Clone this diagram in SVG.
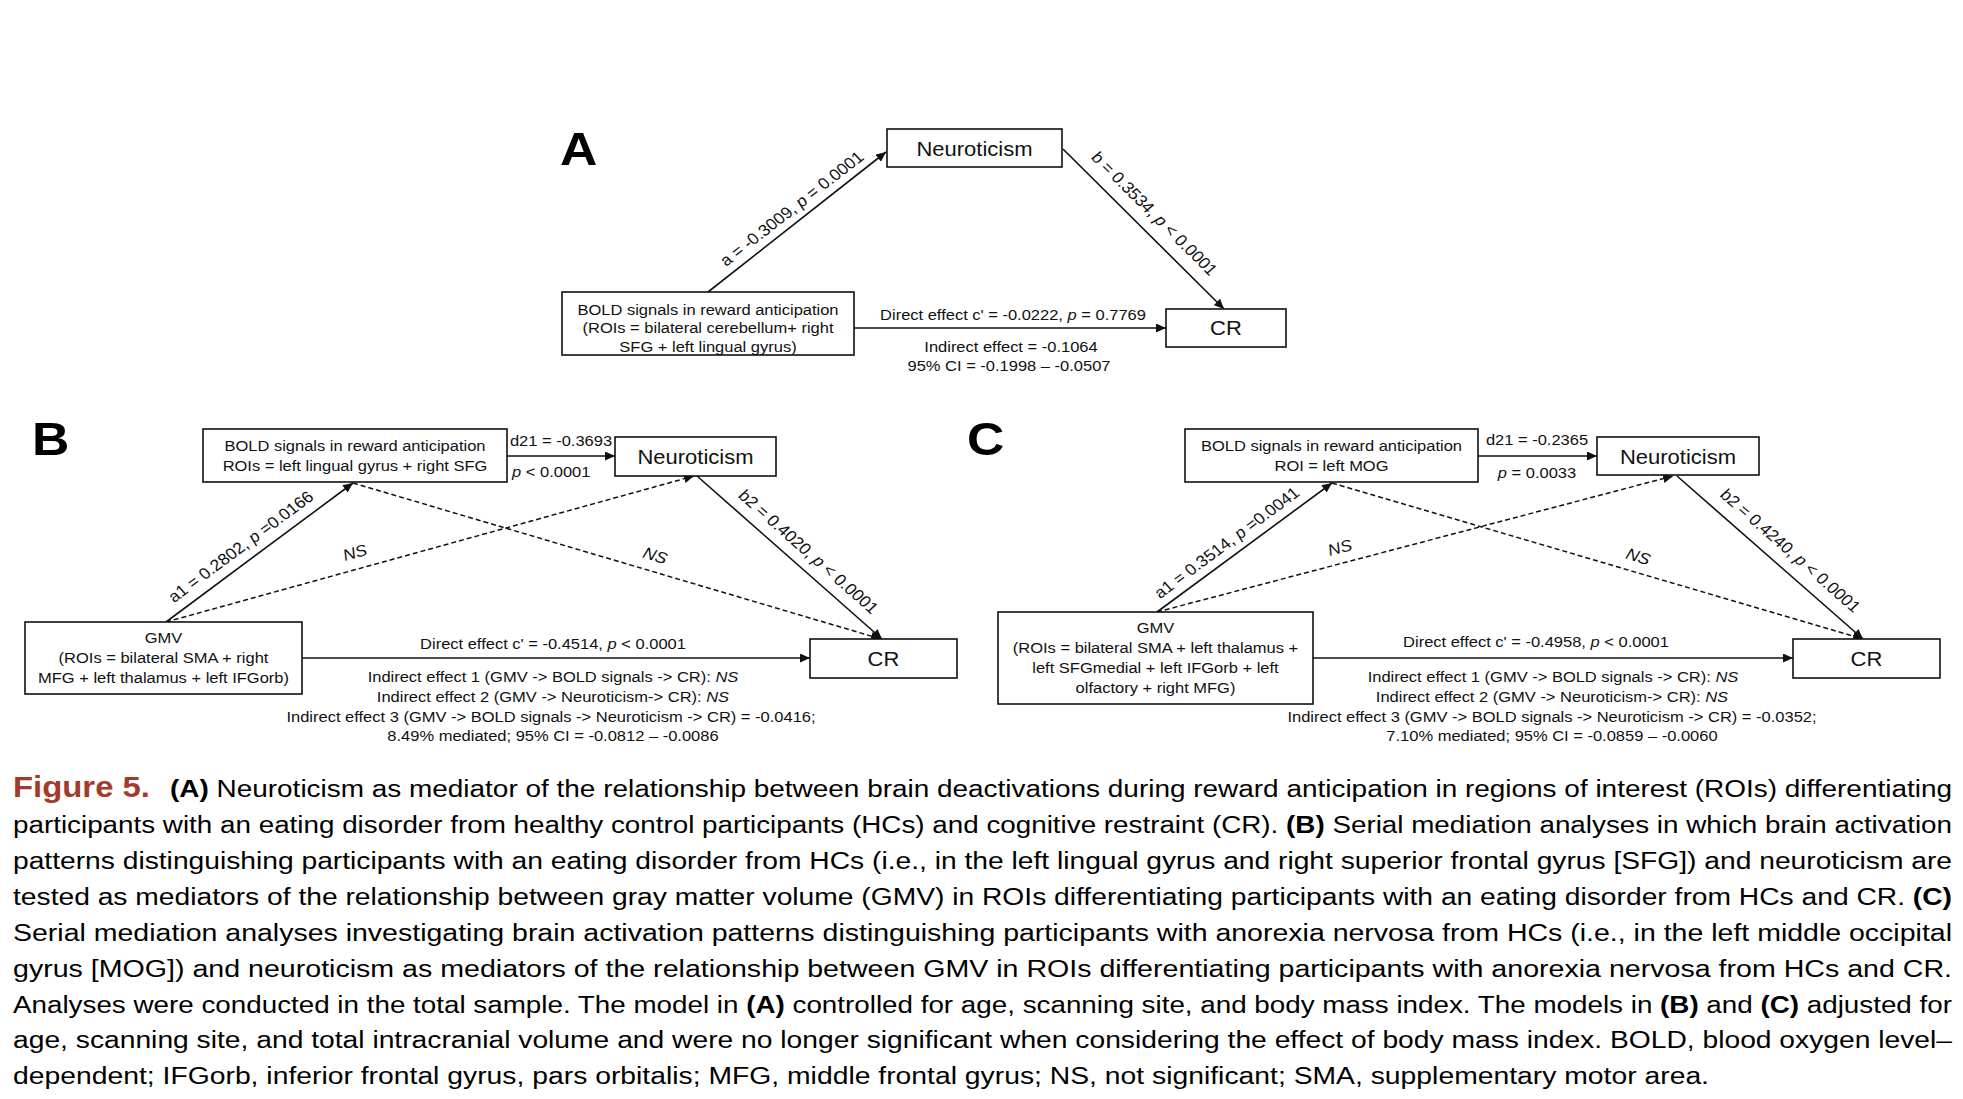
<svg xmlns="http://www.w3.org/2000/svg" width="1963" height="1099" viewBox="0 0 1963 1099">
<style>
text{font-family:"Liberation Sans",Arial,Helvetica,sans-serif;fill:#111}
.bx{fill:#fff;stroke:#111;stroke-width:1.6}
.ln{stroke:#111;stroke-width:1.6;fill:none}
.ds{stroke:#111;stroke-width:1.5;stroke-dasharray:5 3;fill:none}
.s{transform-box:fill-box;transform-origin:center;transform:scaleX(1.1)}
.sl{transform-box:fill-box;transform-origin:left center;transform:scaleX(1.1)}
.f15{font-size:15px}
.f16{font-size:16px}
.f20{font-size:20px}
.let{font-size:47px;font-weight:bold;fill:#000}
.cap{font-size:23px;fill:#000}
.i{font-style:italic}
.b{font-weight:bold}
</style>
<defs>
<marker id="ah" markerUnits="userSpaceOnUse" markerWidth="11" markerHeight="9" refX="10" refY="4.5" orient="auto"><path d="M0,0 L10,4.5 L0,9 z" fill="#111"/></marker>
</defs>

<!-- Panel letters -->
<g id="labels">
<text class="let sl" x="560" y="165">A</text>
<text class="let sl" x="32" y="455">B</text>
<text class="let sl" x="967" y="455">C</text>
</g>

<!-- Connectors -->
<g id="connectors">
<!-- Panel A -->
<line class="ln" x1="708" y1="292" x2="886" y2="152" marker-end="url(#ah)"/>
<line class="ln" x1="1063" y1="149" x2="1224" y2="309" marker-end="url(#ah)"/>
<line class="ln" x1="854" y1="328" x2="1166" y2="328" marker-end="url(#ah)"/>
<!-- Panel B -->
<line class="ln" x1="507" y1="456" x2="615" y2="456" marker-end="url(#ah)"/>
<line class="ln" x1="166" y1="622" x2="353" y2="483" marker-end="url(#ah)"/>
<line class="ds" x1="166" y1="622" x2="694" y2="476" marker-end="url(#ah)"/>
<line class="ds" x1="353" y1="483" x2="881" y2="639" marker-end="url(#ah)"/>
<line class="ln" x1="697" y1="476" x2="882" y2="639" marker-end="url(#ah)"/>
<line class="ln" x1="302" y1="658" x2="810" y2="658" marker-end="url(#ah)"/>
<!-- Panel C -->
<line class="ln" x1="1478" y1="456" x2="1597" y2="456" marker-end="url(#ah)"/>
<line class="ln" x1="1157" y1="612" x2="1332" y2="483" marker-end="url(#ah)"/>
<line class="ds" x1="1157" y1="612" x2="1673" y2="476" marker-end="url(#ah)"/>
<line class="ds" x1="1332" y1="483" x2="1863" y2="639" marker-end="url(#ah)"/>
<line class="ln" x1="1677" y1="476" x2="1863" y2="639" marker-end="url(#ah)"/>
<line class="ln" x1="1313" y1="658" x2="1793" y2="658" marker-end="url(#ah)"/>

<!-- connector labels A -->
<text class="f16" text-anchor="middle" y="5" transform="translate(792,209) scale(1.1,1) rotate(-40.7)">a = -0.3009, <tspan class="i">p</tspan> = 0.0001</text>
<text class="f16" text-anchor="middle" y="5" transform="translate(1154,214) scale(1.1,1) rotate(47.5)">b = 0.3534, <tspan class="i">p</tspan> &lt; 0.0001</text>
<text class="f15 s" x="1013" y="320" text-anchor="middle">Direct effect c' = -0.0222, <tspan class="i">p</tspan> = 0.7769</text>
<text class="f15 s" x="1011" y="352" text-anchor="middle">Indirect effect = -0.1064</text>
<text class="f15 s" x="1009" y="371" text-anchor="middle">95% CI = -0.1998 – -0.0507</text>

<!-- connector labels B -->
<text class="f15 s" x="561" y="446" text-anchor="middle">d21 = -0.3693</text>
<text class="f15 sl" x="512" y="477"><tspan class="i">p</tspan> &lt; 0.0001</text>
<text class="f16" text-anchor="middle" y="5" transform="translate(241,547) scale(1.1,1) rotate(-39.3)">a1 = 0.2802, <tspan class="i">p</tspan> =0.0166</text>
<text class="f16 i" text-anchor="middle" y="5" transform="translate(355,553) scale(1.1,1) rotate(-16.9)">NS</text>
<text class="f16 i" text-anchor="middle" y="5" transform="translate(655,556) scale(1.1,1) rotate(18)">NS</text>
<text class="f16" text-anchor="middle" y="5" transform="translate(808,552) scale(1.1,1) rotate(44.1)">b2 = 0.4020, <tspan class="i">p</tspan> &lt; 0.0001</text>
<text class="f15 s" x="553" y="649" text-anchor="middle">Direct effect c' = -0.4514, <tspan class="i">p</tspan> &lt; 0.0001</text>
<text class="f15 s" x="553" y="682" text-anchor="middle">Indirect effect 1 (GMV -&gt; BOLD signals -&gt; CR): <tspan class="i">NS</tspan></text>
<text class="f15 s" x="553" y="702" text-anchor="middle">Indirect effect 2 (GMV -&gt; Neuroticism-&gt; CR): <tspan class="i">NS</tspan></text>
<text class="f15 s" x="551" y="722" text-anchor="middle">Indirect effect 3 (GMV -&gt; BOLD signals -&gt; Neuroticism -&gt; CR) = -0.0416;</text>
<text class="f15 s" x="553" y="741" text-anchor="middle">8.49% mediated; 95% CI = -0.0812 – -0.0086</text>

<!-- connector labels C -->
<text class="f15 s" x="1537" y="445" text-anchor="middle">d21 = -0.2365</text>
<text class="f15 s" x="1537" y="478" text-anchor="middle"><tspan class="i">p</tspan> = 0.0033</text>
<text class="f16" text-anchor="middle" y="5" transform="translate(1227,543) scale(1.1,1) rotate(-39.3)">a1 = 0.3514, <tspan class="i">p</tspan> =0.0041</text>
<text class="f16 i" text-anchor="middle" y="5" transform="translate(1340,548) scale(1.1,1) rotate(-16.2)">NS</text>
<text class="f16 i" text-anchor="middle" y="5" transform="translate(1638,557) scale(1.1,1) rotate(18)">NS</text>
<text class="f16" text-anchor="middle" y="5" transform="translate(1790,551) scale(1.1,1) rotate(43.9)">b2 = 0.4240, <tspan class="i">p</tspan> &lt; 0.0001</text>
<text class="f15 s" x="1536" y="647" text-anchor="middle">Direct effect c' = -0.4958, <tspan class="i">p</tspan> &lt; 0.0001</text>
<text class="f15 s" x="1553" y="682" text-anchor="middle">Indirect effect 1 (GMV -&gt; BOLD signals -&gt; CR): <tspan class="i">NS</tspan></text>
<text class="f15 s" x="1552" y="702" text-anchor="middle">Indirect effect 2 (GMV -&gt; Neuroticism-&gt; CR): <tspan class="i">NS</tspan></text>
<text class="f15 s" x="1552" y="722" text-anchor="middle">Indirect effect 3 (GMV -&gt; BOLD signals -&gt; Neuroticism -&gt; CR) = -0.0352;</text>
<text class="f15 s" x="1552" y="741" text-anchor="middle">7.10% mediated; 95% CI = -0.0859 – -0.0060</text>
</g>

<!-- Panel A nodes -->
<g id="A-neuroticism">
<rect class="bx" x="887" y="129" width="175" height="38"/>
<text class="f20 s" x="974.5" y="156" text-anchor="middle">Neuroticism</text>
</g>
<g id="A-bold">
<rect class="bx" x="562" y="292" width="292" height="63"/>
<text class="f15 s" text-anchor="middle"><tspan x="708" y="315">BOLD signals in reward anticipation</tspan><tspan x="708" y="333.5">(ROIs = bilateral cerebellum+ right</tspan><tspan x="708" y="352">SFG + left lingual gyrus)</tspan></text>
</g>
<g id="A-cr">
<rect class="bx" x="1166" y="309" width="120" height="38"/>
<text class="f20 s" x="1226" y="335.5" text-anchor="middle">CR</text>
</g>

<!-- Panel B nodes -->
<g id="B-bold">
<rect class="bx" x="203" y="429" width="304" height="53"/>
<text class="f15 s" text-anchor="middle"><tspan x="355" y="451.5">BOLD signals in reward anticipation</tspan><tspan x="355" y="471.5">ROIs = left lingual gyrus + right SFG</tspan></text>
</g>
<g id="B-neuroticism">
<rect class="bx" x="615" y="437" width="161" height="39"/>
<text class="f20 s" x="695.5" y="464" text-anchor="middle">Neuroticism</text>
</g>
<g id="B-gmv">
<rect class="bx" x="25" y="622" width="277" height="72"/>
<text class="f15 s" text-anchor="middle"><tspan x="163.5" y="643.5">GMV</tspan><tspan x="163.5" y="663.5">(ROIs = bilateral SMA + right</tspan><tspan x="163.5" y="683.5">MFG + left thalamus + left IFGorb)</tspan></text>
</g>
<g id="B-cr">
<rect class="bx" x="810" y="639" width="147" height="39"/>
<text class="f20 s" x="883.5" y="666" text-anchor="middle">CR</text>
</g>

<!-- Panel C nodes -->
<g id="C-bold">
<rect class="bx" x="1185" y="429" width="293" height="53"/>
<text class="f15 s" text-anchor="middle"><tspan x="1331.5" y="451.5">BOLD signals in reward anticipation</tspan><tspan x="1331.5" y="471.5">ROI = left MOG</tspan></text>
</g>
<g id="C-neuroticism">
<rect class="bx" x="1597" y="437" width="162" height="38"/>
<text class="f20 s" x="1678" y="464" text-anchor="middle">Neuroticism</text>
</g>
<g id="C-gmv">
<rect class="bx" x="998" y="612" width="315" height="92"/>
<text class="f15 s" text-anchor="middle"><tspan x="1155.5" y="633.5">GMV</tspan><tspan x="1155.5" y="653.5">(ROIs = bilateral SMA + left thalamus +</tspan><tspan x="1155.5" y="673.5">left SFGmedial + left IFGorb + left</tspan><tspan x="1155.5" y="693.5">olfactory + right MFG)</tspan></text>
</g>
<g id="C-cr">
<rect class="bx" x="1793" y="639" width="147" height="39"/>
<text class="f20 s" x="1866.5" y="666" text-anchor="middle">CR</text>
</g>

<!-- Caption -->
<g id="caption">
<text x="13" y="797" font-size="29" font-weight="bold" fill="#a33b2c" style="fill:#a33b2c" textLength="137" lengthAdjust="spacingAndGlyphs">Figure 5.</text>
<text class="cap" x="170" y="797" textLength="1782" lengthAdjust="spacingAndGlyphs"><tspan class="b">(A)</tspan> Neuroticism as mediator of the relationship between brain deactivations during reward anticipation in regions of interest (ROIs) differentiating</text>
<text class="cap" x="13" y="833" textLength="1939" lengthAdjust="spacingAndGlyphs">participants with an eating disorder from healthy control participants (HCs) and cognitive restraint (CR). <tspan class="b">(B)</tspan> Serial mediation analyses in which brain activation</text>
<text class="cap" x="13" y="869" textLength="1939" lengthAdjust="spacingAndGlyphs">patterns distinguishing participants with an eating disorder from HCs (i.e., in the left lingual gyrus and right superior frontal gyrus [SFG]) and neuroticism are</text>
<text class="cap" x="13" y="905" textLength="1939" lengthAdjust="spacingAndGlyphs">tested as mediators of the relationship between gray matter volume (GMV) in ROIs differentiating participants with an eating disorder from HCs and CR. <tspan class="b">(C)</tspan></text>
<text class="cap" x="13" y="940.5" textLength="1939" lengthAdjust="spacingAndGlyphs">Serial mediation analyses investigating brain activation patterns distinguishing participants with anorexia nervosa from HCs (i.e., in the left middle occipital</text>
<text class="cap" x="13" y="976.5" textLength="1939" lengthAdjust="spacingAndGlyphs">gyrus [MOG]) and neuroticism as mediators of the relationship between GMV in ROIs differentiating participants with anorexia nervosa from HCs and CR.</text>
<text class="cap" x="13" y="1012.5" textLength="1939" lengthAdjust="spacingAndGlyphs">Analyses were conducted in the total sample. The model in <tspan class="b">(A)</tspan> controlled for age, scanning site, and body mass index. The models in <tspan class="b">(B)</tspan> and <tspan class="b">(C)</tspan> adjusted for</text>
<text class="cap" x="13" y="1048" textLength="1939" lengthAdjust="spacingAndGlyphs">age, scanning site, and total intracranial volume and were no longer significant when considering the effect of body mass index. BOLD, blood oxygen level–</text>
<text class="cap" x="13" y="1084" textLength="1696" lengthAdjust="spacingAndGlyphs">dependent; IFGorb, inferior frontal gyrus, pars orbitalis; MFG, middle frontal gyrus; NS, not significant; SMA, supplementary motor area.</text>
</g>
</svg>
